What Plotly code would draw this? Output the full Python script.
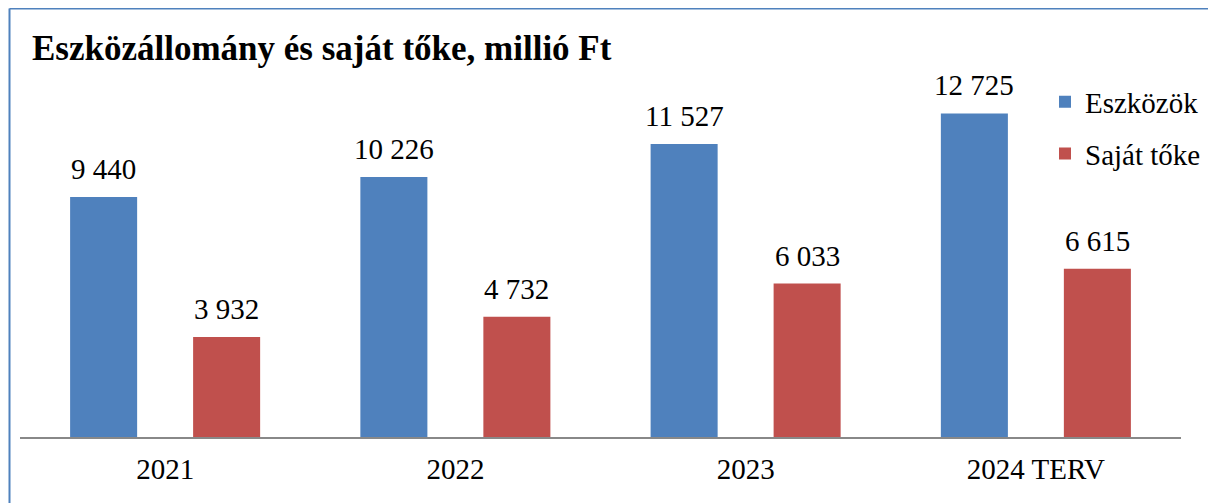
import plotly.graph_objects as go

categories = ["2021", "2022", "2023", "2024 TERV"]
eszkozok = [9440, 10226, 11527, 12725]
sajat_toke = [3932, 4732, 6033, 6615]
series_names = ["Eszközök", "Saját tőke"]
title_text = "Eszközállomány és saját tőke, millió Ft"

BLUE = "#4F81BD"
RED = "#C0504D"
FONT = "Liberation Serif, Times New Roman, serif"

W, H = 1216, 503
ML, MR, MT, MB = 12, 43, 73, 73.5
PW = W - ML - MR
PH = H - MT - MB


def fmt(v):
    return f"{v:,}".replace(",", " ")


fig = go.Figure()
fig.add_trace(go.Bar(x=categories, y=eszkozok, name=series_names[0],
                     marker=dict(color=BLUE, line=dict(width=0)),
                     legendgroup="a"))
fig.add_trace(go.Bar(x=categories, y=sajat_toke, name=series_names[1],
                     marker=dict(color=RED, line=dict(width=0)),
                     legendgroup="b"))

annotations = []
for vals, shift in ((eszkozok, -61.5), (sajat_toke, 61.5)):
    for i, v in enumerate(vals):
        # category axis: numeric x is the category index
        annotations.append(dict(x=i, y=v, xref="x", yref="y", text=fmt(v),
                                showarrow=False, xshift=shift, yshift=28,
                                yanchor="middle",
                                font=dict(family=FONT, size=29, color="#000")))

top_y = (H - MB - 0.5) / PH
left_x = (1.5 - ML) / PW
shapes = [
    # top border
    dict(type="line", xref="paper", yref="paper",
         x0=left_x, x1=(W - ML) / PW, y0=top_y, y1=top_y,
         line=dict(color=BLUE, width=2)),
    # left border
    dict(type="line", xref="paper", yref="paper",
         x0=left_x, x1=left_x, y0=top_y, y1=-(MB + 5) / PH,
         line=dict(color=BLUE, width=2)),
]

fig.update_layout(
    width=W, height=H,
    margin=dict(l=ML, r=MR, t=MT, b=MB, pad=0),
    paper_bgcolor="white", plot_bgcolor="white",
    barmode="group", bargap=0.1525, bargroupgap=0.455,
    title=dict(text=title_text, x=24 / W, xanchor="left", xref="container",
               y=1 - 40 / H, yanchor="middle", yref="container",
               font=dict(family=FONT, size=35, color="#000", weight="bold")),
    legend=dict(x=(1037 - ML) / PW, xanchor="left",
                y=1 + (MT - 68.5) / PH, yanchor="top",
                font=dict(family=FONT, size=29, color="#000"),
                tracegroupgap=11, bgcolor="rgba(0,0,0,0)"),
    xaxis=dict(type="category", range=[-0.5, len(categories) - 0.5],
               showline=True, linecolor="#888888", linewidth=1.5,
               showgrid=False, ticks="", zeroline=False, ticklabelstandoff=5,
               tickfont=dict(family=FONT, size=29, color="#000")),
    yaxis=dict(range=[0, 14000], visible=False, showgrid=False, zeroline=False),
    annotations=annotations,
    shapes=shapes,
    showlegend=True,
)

fig.write_html("out.html")
